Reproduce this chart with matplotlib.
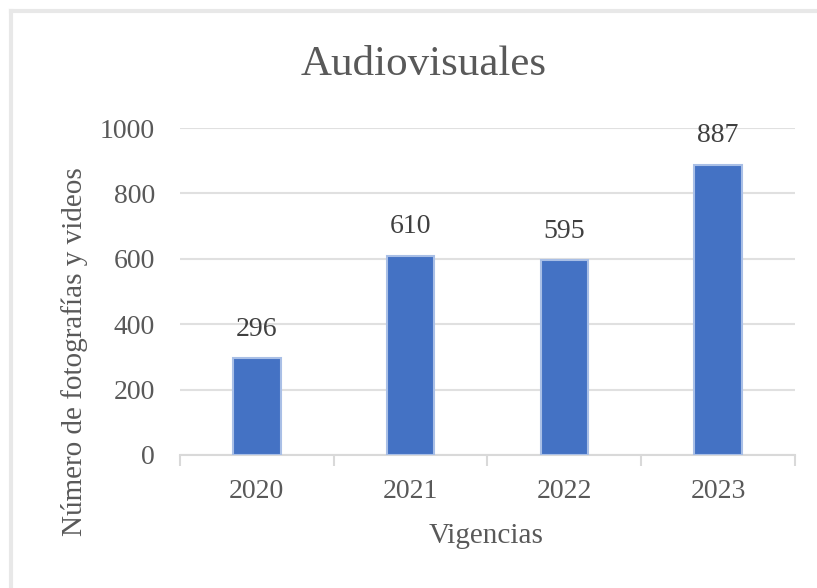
import matplotlib
matplotlib.use("Agg")
import matplotlib.pyplot as plt
from matplotlib.lines import Line2D

years = ["2020", "2021", "2022", "2023"]
counts = [296, 610, 595, 887]

plt.rcParams['font.family'] = ['Liberation Serif', 'DejaVu Serif']

fig = plt.figure(figsize=(8.17, 5.88), dpi=100)
ax = fig.add_axes([0.2203, 0.2262, 0.7527, 0.5561])

x = range(len(years))
bars = ax.bar(x, counts, width=0.31, color='#4472C4',
              edgecolor='#a9bfe6', linewidth=1.5, zorder=3)

# value labels over each bar
for bar, val in zip(bars, counts):
    ax.annotate(f'{val}',
                xy=(bar.get_x() + bar.get_width() / 2, bar.get_height()),
                xytext=(0, 12), textcoords="offset points",
                ha='center', va='bottom', fontsize=20, color='#404040')

ax.set_xlim(-0.5, len(years) - 0.5)
ax.set_ylim(0, 1000)
ax.set_yticks(range(0, 1001, 200))
ax.grid(axis='y', color='#e0e0e0', linewidth=1.5, zorder=0)

for side in ['top', 'right', 'left']:
    ax.spines[side].set_visible(False)
ax.spines['bottom'].set_color('#d9d9d9')
ax.spines['bottom'].set_linewidth(1.5)

ax.set_xticks(list(x))
ax.set_xticklabels(years)
ax.set_xticks([i - 0.5 for i in range(len(years) + 1)], minor=True)
ax.tick_params(axis='x', which='major', length=0, pad=17,
               labelsize=20, labelcolor='#595959')
ax.tick_params(axis='x', which='minor', length=8, width=1.5, color='#d9d9d9')
ax.tick_params(axis='y', length=0, pad=18, labelsize=20, labelcolor='#595959')

ax.set_xlabel('Vigencias', fontsize=21, color='#595959')
ax.xaxis.set_label_coords(0.498, -0.207)
ax.set_ylabel('Número de fotografías y videos', fontsize=21,
              color='#595959')
ax.yaxis.set_label_coords(-0.15, 0.315)

fig.text(0.518, 0.89, 'Audiovisuales', ha='center', va='center',
         fontsize=31, color='#595959')

# chart frame along the top and left edges
fig.add_artist(Line2D([0.013, 1.0], [0.982, 0.982], color='#e8e8e8',
                      linewidth=3, transform=fig.transFigure))
fig.add_artist(Line2D([0.0135, 0.0135], [0.0, 0.982], color='#e8e8e8',
                      linewidth=3, transform=fig.transFigure))

fig.savefig('out.png', dpi=100)
